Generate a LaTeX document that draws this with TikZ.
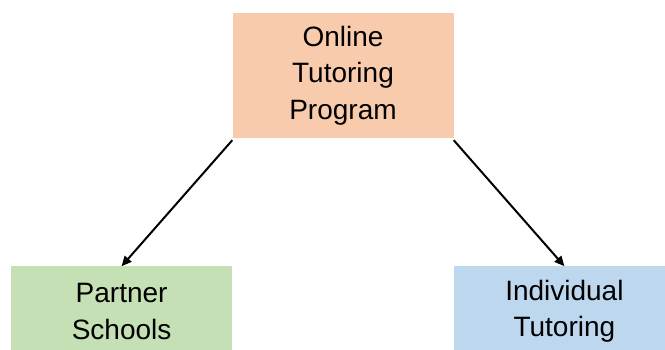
\documentclass[tikz,border=0pt]{standalone}
\usepackage{fontspec}
\setmainfont{Liberation Sans}
\usetikzlibrary{positioning,arrows.meta}

\definecolor{peach}{HTML}{F8CBAD}
\definecolor{sage}{HTML}{C5E0B4}
\definecolor{sky}{HTML}{BDD7EE}

\tikzset{
  box/.style={minimum width=221pt,text width=200pt,align=center,inner sep=0pt,
    font=\fontsize{28}{36.5}\selectfont},
  link/.style={-{Triangle[length=10pt,width=9pt]},line width=2pt}
}

\begin{document}
\begin{tikzpicture}[x=1pt,y=1pt]
\useasboundingbox (0,0) rectangle (665,349);
\clip (0,0) rectangle (665,349);

\node [box,fill=peach,minimum height=125pt] (prog) at (343,273.5) {Online\\Tutoring\\Program};

\node [box,fill=sage,minimum height=90pt] (partner) [below left=128pt and 0pt of prog.south west,anchor=north east] {Partner\\Schools};
\node [box,fill=sky,minimum height=90pt] (indiv) [below right=128pt and 0pt of prog.south east,anchor=north west] {Individual\\Tutoring};

\draw [link] ([yshift=-2pt]prog.south west) -- (partner.north);
\draw [link] ([yshift=-2pt]prog.south east) -- (indiv.north);

\end{tikzpicture}
\end{document}
